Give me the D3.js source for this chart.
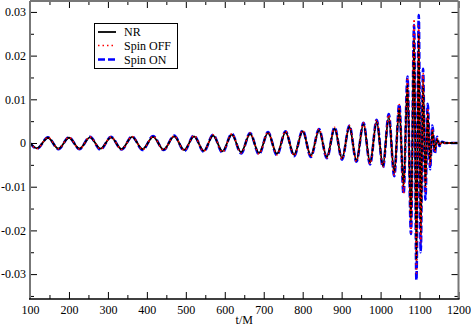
<!DOCTYPE html>
<html><head><meta charset="utf-8">
<script src="https://cdn.jsdelivr.net/npm/d3@7"></script>
<style>
html,body{margin:0;padding:0;background:#fff;}
svg{display:block;}
text{font-family:"Liberation Serif","Times New Roman",serif;}
</style></head>
<body>
<svg id="c" width="471" height="327"></svg>
<script>
// ---- data (extrema of the waveforms) ----
const tExt = [100,118,146,173,200,227,254,281,308,335,362,389,416,443,470,496,521,546,570,594,618,642,665,688,711,734,756,778,800,821,842,862,882,901,920,938,956,973,990,1006,1021,1035,1048,1059,1069,1078,1086,1092,1098,1103,1109,1115,1121,1127,1133,1139,1145,1151,1158,1166,1200];
const nrVals = [0,-0.0012,0.0012,-0.0013,0.0012,-0.0013,0.0013,-0.0013,0.0013,-0.0014,0.0014,-0.0014,0.0014,-0.0015,0.0015,-0.0016,0.0015,-0.0018,0.0017,-0.0019,0.0019,-0.0021,0.0021,-0.0023,0.0023,-0.0025,0.0025,-0.0027,0.0027,-0.0029,0.0029,-0.0032,0.0033,-0.0035,0.0037,-0.0040,0.0043,-0.0045,0.0049,-0.0052,0.0060,-0.0068,0.0080,-0.0100,0.0135,-0.0180,0.0240,-0.0270,0.0250,-0.0210,0.0145,-0.0100,0.0070,-0.0045,0.0028,-0.0016,0.0009,-0.0004,0.0002,0,0];
const spinOffVals = [0,-0.0013,0.0013,-0.0013,0.0013,-0.0014,0.0014,-0.0014,0.0014,-0.0015,0.0015,-0.0015,0.0015,-0.0016,0.0016,-0.0017,0.0017,-0.0019,0.0019,-0.0021,0.0021,-0.0023,0.0023,-0.0025,0.0025,-0.0027,0.0027,-0.0029,0.0029,-0.0031,0.0032,-0.0034,0.0036,-0.0037,0.0040,-0.0042,0.0046,-0.0048,0.0053,-0.0055,0.0065,-0.0074,0.0088,-0.0115,0.0150,-0.0205,0.0284,-0.0298,0.0268,-0.0228,0.0160,-0.0115,0.0080,-0.0052,0.0033,-0.0020,0.0011,-0.0005,0.0002,0,0];
const spinOnVals = [0,-0.0013,0.0013,-0.0014,0.0013,-0.0014,0.0014,-0.0015,0.0014,-0.0015,0.0015,-0.0016,0.0016,-0.0016,0.0017,-0.0018,0.0017,-0.0020,0.0019,-0.0022,0.0021,-0.0024,0.0023,-0.0026,0.0025,-0.0028,0.0027,-0.0030,0.0029,-0.0032,0.0032,-0.0035,0.0036,-0.0038,0.0040,-0.0043,0.0046,-0.0049,0.0053,-0.0056,0.0066,-0.0076,0.0089,-0.0117,0.0152,-0.0208,0.0270,-0.0314,0.0293,-0.0250,0.0170,-0.0130,0.0090,-0.0060,0.0040,-0.0025,0.0014,-0.0007,0.0003,0,0];
const xTicks = [100,200,300,400,500,600,700,800,900,1000,1100,1200];
const xMinor = [150,250,350,450,550,650,750,850,950,1050,1150];
const yTicks = [-0.03,-0.02,-0.01,0,0.01,0.02,0.03];
const yTickLabels = ["-0.03","-0.02","-0.01","0","0.01","0.02","0.03"];
const yMinor = [-0.035,-0.025,-0.015,-0.005,0.005,0.015,0.025];
const seriesNames = ["NR","Spin OFF","Spin ON"];
const xLabel = "t/M";

// ---- layout ----
const L = 30, R = 458.5, T = 1, B = 299;
const svg = d3.select("#c");
svg.append("rect").attr("width",471).attr("height",327).attr("fill","#fff");
const x = d3.scaleLinear().domain([100,1200]).range([L,R]);
const y = d3.scaleLinear().domain([-0.0357,0.0325]).range([B,T]);

svg.append("defs").append("clipPath").attr("id","clip")
  .append("rect").attr("x",L).attr("y",T).attr("width",R-L).attr("height",B-T);

const line = d3.line().x(d=>x(d[0])).y(d=>y(d[1])).curve(d3.curveMonotoneX);
const mk = vals => tExt.map((t,i)=>[t,vals[i]]);

const g = svg.append("g").attr("clip-path","url(#clip)");
// Spin ON (blue dashed) underneath, NR black, Spin OFF red dots on top
g.append("path").attr("d",line(mk(spinOnVals))).attr("fill","none")
  .attr("stroke","#0000ff").attr("stroke-width",2.6).attr("stroke-dasharray","7,3");
g.append("path").attr("d",line(mk(nrVals))).attr("fill","none")
  .attr("stroke","#000").attr("stroke-width",1.8);
g.append("path").attr("d",line(mk(spinOffVals))).attr("fill","none")
  .attr("stroke","#ff0000").attr("stroke-width",1.6).attr("stroke-dasharray","1.5,3");

// ---- axes (inward ticks on all sides) ----
function styleAxis(sel){
  sel.select(".domain").remove();
  sel.selectAll(".tick line").attr("stroke","#000").attr("stroke-width",1);
  sel.selectAll("text").attr("font-size",12).attr("fill","#000")
     .attr("font-family","Liberation Serif, Times New Roman, serif");
}
svg.append("g").attr("transform",`translate(0,${B})`)
  .call(d3.axisBottom(x).tickValues(xTicks).tickSize(-7).tickPadding(6).tickFormat(d3.format("d"))).call(styleAxis);
svg.append("g").attr("transform",`translate(0,${B})`)
  .call(d3.axisBottom(x).tickValues(xMinor).tickSize(-4).tickFormat("")).call(styleAxis);
svg.append("g").attr("transform",`translate(0,${T})`)
  .call(d3.axisTop(x).tickValues(xTicks).tickSize(-7).tickFormat("")).call(styleAxis);
svg.append("g").attr("transform",`translate(0,${T})`)
  .call(d3.axisTop(x).tickValues(xMinor).tickSize(-4).tickFormat("")).call(styleAxis);
svg.append("g").attr("transform",`translate(${L},0)`)
  .call(d3.axisLeft(y).tickValues(yTicks).tickSize(-7).tickPadding(4).tickFormat((d,i)=>yTickLabels[i])).call(styleAxis);
svg.append("g").attr("transform",`translate(${L},0)`)
  .call(d3.axisLeft(y).tickValues(yMinor).tickSize(-4).tickFormat("")).call(styleAxis);
svg.append("g").attr("transform",`translate(${R},0)`)
  .call(d3.axisRight(y).tickValues(yTicks).tickSize(-7).tickFormat("")).call(styleAxis);
svg.append("g").attr("transform",`translate(${R},0)`)
  .call(d3.axisRight(y).tickValues(yMinor).tickSize(-4).tickFormat("")).call(styleAxis);

// frame
svg.append("line").attr("x1",L).attr("x2",L).attr("y1",T).attr("y2",B).attr("stroke","#777").attr("stroke-width",2);
svg.append("line").attr("x1",R).attr("x2",R).attr("y1",T).attr("y2",B).attr("stroke","#777").attr("stroke-width",2);
svg.append("line").attr("x1",L).attr("x2",R).attr("y1",T).attr("y2",T).attr("stroke","#777").attr("stroke-width",2);
svg.append("line").attr("x1",L-1).attr("x2",R+1).attr("y1",B).attr("y2",B).attr("stroke","#000").attr("stroke-width",1.6);

svg.append("text").attr("x",(L+R)/2).attr("y",324).attr("text-anchor","middle")
  .attr("font-size",12).text(xLabel);

// ---- legend ----
const lg = svg.append("g");
lg.append("rect").attr("x",94.5).attr("y",23.5).attr("width",83).attr("height",45)
  .attr("fill","#fff").attr("stroke","#000").attr("stroke-width",1);
const legStyles = [
  {c:"#000",w:1.8,d:null},
  {c:"#ff0000",w:1.6,d:"1.5,3"},
  {c:"#0000ff",w:2.6,d:"7,3"}
];
const legY = [32,45.5,59.5];
seriesNames.forEach((n,i)=>{
  const s = legStyles[i];
  const ln = lg.append("line").attr("x1",98).attr("x2",116).attr("y1",legY[i]).attr("y2",legY[i])
    .attr("stroke",s.c).attr("stroke-width",s.w);
  if(s.d) ln.attr("stroke-dasharray",s.d);
  lg.append("text").attr("x",124).attr("y",legY[i]+4).attr("font-size",12).text(n);
});
</script>
</body></html>
